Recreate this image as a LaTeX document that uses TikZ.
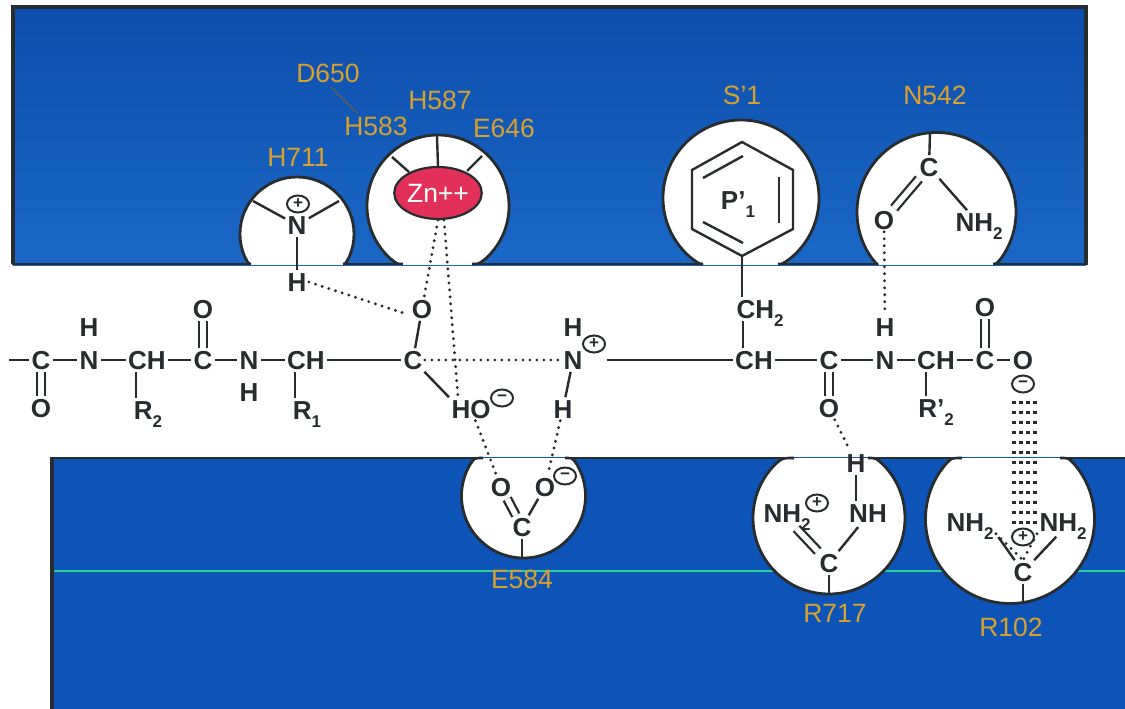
\documentclass[tikz,border=0pt]{standalone}
\usepackage{fontspec}
\setmainfont{Liberation Sans}
\usetikzlibrary{shapes.geometric}
\definecolor{bluetop}{RGB}{12,78,172}
\definecolor{bluebot}{RGB}{26,104,198}
\definecolor{bluelow}{RGB}{12,84,184}
\definecolor{inkdark}{RGB}{40,44,46}
\definecolor{labelor}{RGB}{218,160,45}
\definecolor{znred}{RGB}{226,48,88}
\definecolor{greenln}{RGB}{45,205,150}
\newcommand\sbs[1]{\raisebox{-0.32em}{\fontsize{17}{17}\selectfont #1}}
% \pkcusp{point on circle x}{y}{chord x}{tip x}{band y}{colour}
\newcommand\pkcusp[6]{\fill[#6] (#1,#2) .. controls (#3,#5) .. (#4,#5) -- (#1,#5) -- cycle; \draw[inkdark,line width=2.6pt] (#1,#2) .. controls (#3,#5) .. (#4,#5);}
\tikzset{
  x=1pt,y=-1pt,
  atom/.style={text=inkdark,inner sep=0pt,outer sep=2.5pt,anchor=center,font=\fontsize{26}{26}\selectfont\bfseries,text height=18.6pt,text depth=0pt},
  reslabel/.style={text=labelor,inner sep=0pt,anchor=center,font=\fontsize{26.5}{26.5}\selectfont,text height=19pt,text depth=0pt},
  bond/.style={draw=inkdark,line width=2.4pt},
  dbond/.style={draw=inkdark,line width=2.3pt,double=white,double distance=5.5pt},
  hbond/.style={draw=inkdark,line width=3.2pt,line cap=round,dash pattern=on 0pt off 7pt},
  saltdots/.style={draw=inkdark,line width=3.4pt,dash pattern=on 3pt off 7pt},
  chg/.style={draw=inkdark,line width=2pt,ellipse,inner sep=0pt,outer sep=0pt,minimum width=22pt,minimum height=17pt,text=inkdark,font=\fontsize{17}{17}\selectfont\bfseries},
  wall/.style={draw=inkdark,line width=2.8pt,fill=white},
}
\begin{document}
\begin{tikzpicture}
\useasboundingbox (0,0) rectangle (1125,709);
\fill[white] (0,0) rectangle (1125,709);
% bands
\shade[top color=bluetop,bottom color=bluebot] (13,7) rectangle (1086,265);
\fill[bluelow] (52,457) rectangle (1125,709);
\draw[greenln,line width=1.5pt] (52,571) -- (1125,571);
% pockets upper
\begin{scope}
\clip (0,0) rectangle (1125,264);
\draw[wall] (297,234) circle[radius=57pt];
\draw[wall] (438,206) circle[radius=71pt];
\draw[wall] (741,198) circle[radius=78pt];
\draw[wall] (936.5,212) circle[radius=79.5pt];
\end{scope}
\begin{scope}
\clip (0,458) rectangle (1125,709);
\draw[wall] (523.5,496) circle[radius=62pt];
\draw[wall] (829,518) circle[radius=76pt];
\draw[wall] (1010,519) circle[radius=84.5pt];
\end{scope}
% cusps where the pockets meet the band edges
\pkcusp{245.8}{259}{248.5}{251}{264}{bluebot}
\pkcusp{348.2}{259}{345.5}{343}{264}{bluebot}
\pkcusp{390.8}{259}{397}{403}{264}{bluebot}
\pkcusp{485.2}{259}{479}{472}{264}{bluebot}
\pkcusp{692.4}{259}{699.4}{703}{264}{bluebot}
\pkcusp{789.6}{259}{782.6}{778}{264}{bluebot}
\pkcusp{872.4}{259}{876.5}{878}{264}{bluebot}
\pkcusp{1000.6}{259}{996.5}{993}{264}{bluebot}
\pkcusp{471}{463}{474.5}{483}{458}{bluelow}
\pkcusp{576}{463}{572.5}{565}{458}{bluelow}
\pkcusp{776.6}{463}{782.4}{794}{458}{bluelow}
\pkcusp{881.4}{463}{875.6}{868}{458}{bluelow}
\pkcusp{946.7}{463}{951.5}{962}{458}{bluelow}
\pkcusp{1073.3}{463}{1068.5}{1060}{458}{bluelow}
% band edges
\draw[inkdark,line width=3.5pt] (13,264) -- (13,7) -- (1086,7) -- (1086,264);
\draw[inkdark,line width=2.8pt] (11.5,264) -- (251,264) (343,264) -- (403,264) (472,264) -- (703,264) (778,264) -- (878,264) (993,264) -- (1087.5,264);
\draw[inkdark,line width=2.8pt] (50,458) -- (483,458) (565,458) -- (794,458) (868,458) -- (962,458) (1060,458) -- (1125,458);
\draw[inkdark,line width=3.5pt] (52,458) -- (52,709);
% residue labels
\node[reslabel] (lD) at (328,73) {D650};
\node[reslabel] (lH583) at (376,126) {H583};
\node[reslabel] (lH587) at (440,100) {H587};
\node[reslabel] (lE646) at (504,128) {E646};
\node[reslabel] (lH711) at (298,157) {H711};
\node[reslabel] (lS) at (742,95) {S'1};
\node[reslabel] (lN) at (935,95) {N542};
\node[reslabel] (lE584) at (522,579) {E584};
\node[reslabel] (lR717) at (835,613) {R717};
\node[reslabel] (lR102) at (1011,627) {R102};
\coordinate (dfrom) at (331,87);
\coordinate (dto) at (357,113);
\draw[labelor!60!black,line width=1pt] (dfrom) -- (dto);
% main chain atoms
\coordinate (chainL) at (9,360);
\node[atom] (c1) at (41,360) {C};
\node[atom] (o1) at (41,408) {O};
\node[atom] (n1) at (89,360) {N};
\node[atom] (h1) at (89,327) {H};
\node[atom] (ch1) at (147,360) {CH};
\node[atom] (r2) at (148,410) {R\sbs{2}};
\node[atom] (c2) at (203,360) {C};
\node[atom] (o2) at (203,309) {O};
\node[atom] (n2) at (249,360) {N};
\node[atom] (h2) at (249,392) {H};
\node[atom] (ch2) at (306,360) {CH};
\node[atom] (r1) at (307,410) {R\sbs{1}};
\node[atom] (c3) at (413,360) {C};
\node[atom] (o3) at (422,309) {O};
\node[atom] (ho) at (471,409) {HO};
\node[chg] (mho) at (502,398) {−};
\node[atom] (n3) at (573,360) {N};
\node[atom] (h3) at (573,327) {H};
\node[chg] (pn3) at (594,344) {+};
\node[atom] (h4) at (563,409) {H};
\node[atom] (ch3) at (754,360) {CH};
\node[atom] (ch2p) at (760,309) {CH\sbs{2}};
\node[atom] (c4) at (829,360) {C};
\node[atom] (o4) at (829,408) {O};
\node[atom] (n4) at (885,360) {N};
\node[atom] (h5) at (885,327) {H};
\node[atom] (ch4) at (936,360) {CH};
\node[atom] (r2p) at (936,408) {R'\sbs{2}};
\node[atom] (c5) at (985,360) {C};
\node[atom] (o5) at (985,307) {O};
\node[atom] (o6) at (1023,360) {O};
\node[chg] (mo6) at (1023,384) {−};
% chain bonds
\draw[bond] (chainL) -- (c1);
\draw[bond] (c1) -- (n1);
\draw[bond] (n1) -- (ch1);
\draw[bond] (ch1) -- (c2);
\draw[bond] (c2) -- (n2);
\draw[bond] (n2) -- (ch2);
\draw[bond] (ch2) -- (c3);
\draw[bond] (ch3) -- (c4);
\draw[bond] (c4) -- (n4);
\draw[bond] (n4) -- (ch4);
\draw[bond] (ch4) -- (c5);
\draw[bond] (c5) -- (o6);
\draw[bond] ([xshift=22pt]n3.east) -- (ch3.west);
\draw[dbond] (c1) -- (o1);
\draw[dbond] (c2) -- (o2);
\draw[dbond] (c4) -- (o4);
\draw[dbond] (c5) -- (o5);
\draw[bond] ([xshift=-11pt]ch1.south) -- ([xshift=-12pt]r2.north);
\draw[bond] ([xshift=-11pt]ch2.south) -- ([xshift=-12pt]r1.north);
\draw[bond] ([xshift=-11pt]ch3.north) -- ([xshift=-17pt]ch2p.south);
\draw[bond] ([xshift=-10pt]ch4.south) -- ([xshift=-10pt]r2p.north);
\draw[bond] (n3) -- (h4);
\draw[bond] (c3) -- (o3);
\draw[bond] (c3) -- (ho.north west);
% H711
\node[chg] (p711) at (298,204) {+};
\node[atom] (n711) at (297,225) {N};
\node[atom] (h711) at (297,282) {H};
\coordinate (w711a) at (253,201);
\coordinate (w711b) at (339,201);
\draw[bond] (n711) -- (h711);
\draw[bond] (w711a) -- (n711);
\draw[bond] (w711b) -- (n711);
% Zn
\node[ellipse,draw=inkdark,line width=2.2pt,fill=znred,minimum width=73pt,minimum height=52pt,inner sep=0pt,text=white,font=\fontsize{26.5}{26.5}\selectfont] (zn) at (438,193) {Zn++};
\coordinate (wz1) at (392,157);
\coordinate (wz2) at (437,136);
\coordinate (wz3) at (482,156);
\coordinate (ez1) at (409,172);
\coordinate (ez3) at (467,171);
\draw[bond] (wz1) -- (ez1);
\draw[bond] (wz2) -- (zn.north);
\draw[bond] (wz3) -- (ez3);
% benzene
\coordinate (b1) at (742,142);
\coordinate (b2) at (793,170);
\coordinate (b3) at (793,229);
\coordinate (b4) at (742,256);
\coordinate (b5) at (692,229);
\coordinate (b6) at (692,170);
\coordinate (i1) at (703,178);
\coordinate (i2) at (743,156);
\coordinate (i3) at (779,177);
\coordinate (i4) at (779,223);
\coordinate (i5) at (703,222);
\coordinate (i6) at (743,243);
\draw[bond,line join=miter] (b1) -- (b2) -- (b3) -- (b4) -- (b5) -- (b6) -- cycle;
\draw[bond] (i1) -- (i2);
\draw[bond] (i3) -- (i4);
\draw[bond] (i5) -- (i6);
\node[atom] (p1) at (738,200) {P'\sbs{1}};
\draw[bond] (b4) -- ([xshift=-18pt]ch2p.north);
% N542
\node[atom] (c542) at (929,167) {C};
\node[atom] (o542) at (884,220) {O};
\node[atom] (nh542) at (979,222) {NH\sbs{2}};
\coordinate (w542) at (930,133);
\draw[bond] (w542) -- (c542);
\draw[dbond] (c542) -- (o542);
\draw[bond] (c542) -- ([xshift=-12pt]nh542.north);
% E584
\node[atom] (ea) at (501,487) {O};
\node[atom] (eb) at (545,487) {O};
\node[chg] (me) at (565,476) {−};
\node[atom] (ec) at (522,527) {C};
\coordinate (we) at (522,558);
\draw[dbond] (ec) -- (ea);
\draw[bond] (ec) -- (eb);
\draw[bond] (ec) -- (we);
% R717
\node[atom] (rh) at (856,463) {H};
\node[atom] (rnh) at (868,513) {NH};
\node[atom] (rnh2) at (787,513) {NH\sbs{2}};
\node[chg] (pr) at (817,503) {+};
\node[atom] (rc) at (829,563) {C};
\coordinate (wr) at (829,594);
\draw[bond] (rh) -- ([xshift=-12pt]rnh.north);
\draw[dbond,shorten >=5pt] (rc) -- ([xshift=6pt]rnh2.south);
\draw[bond,shorten >=3pt] (rc) -- ([xshift=-8pt]rnh.south);
\draw[bond] (rc) -- (wr);
% R102
\node[atom] (qa) at (970,522) {NH\sbs{2}};
\node[atom] (qb) at (1063,522) {NH\sbs{2}};
\node[chg] (pq) at (1023,537) {+};
\node[atom] (qc) at (1023,572) {C};
\coordinate (wq) at (1023,603);
\draw[bond,shorten >=4pt] (qc) -- (qa.south east);
\draw[bond,shorten >=4pt] (qc) -- ([xshift=-4pt]qb.south);
\draw[bond] (qc) -- (wq);
% hydrogen bonds
\draw[hbond] (h711.east) -- ([xshift=-3pt,yshift=-5pt]o3.west);
\draw[hbond] (zn.south) -- (o3);
\draw[hbond] ([xshift=6pt]zn.south) -- ([xshift=-13pt]ho.north);
\draw[hbond] (c3) -- (n3);
\draw[hbond] (ho) -- (ea);
\draw[hbond] (h4) -- (eb);
\draw[hbond] (o542) -- (h5);
\draw[hbond] (o4) -- (rh);
\draw[hbond] (qa.south east) -- (qc.north);
\draw[hbond] (qb.south west) -- (qc.north);
\foreach \dx in {-9,-2,5,12}{
  \draw[saltdots] ([xshift=\dx pt,yshift=-8pt]mo6.south) -- ([xshift=\dx pt]pq.north);
}
\end{tikzpicture}
\end{document}
